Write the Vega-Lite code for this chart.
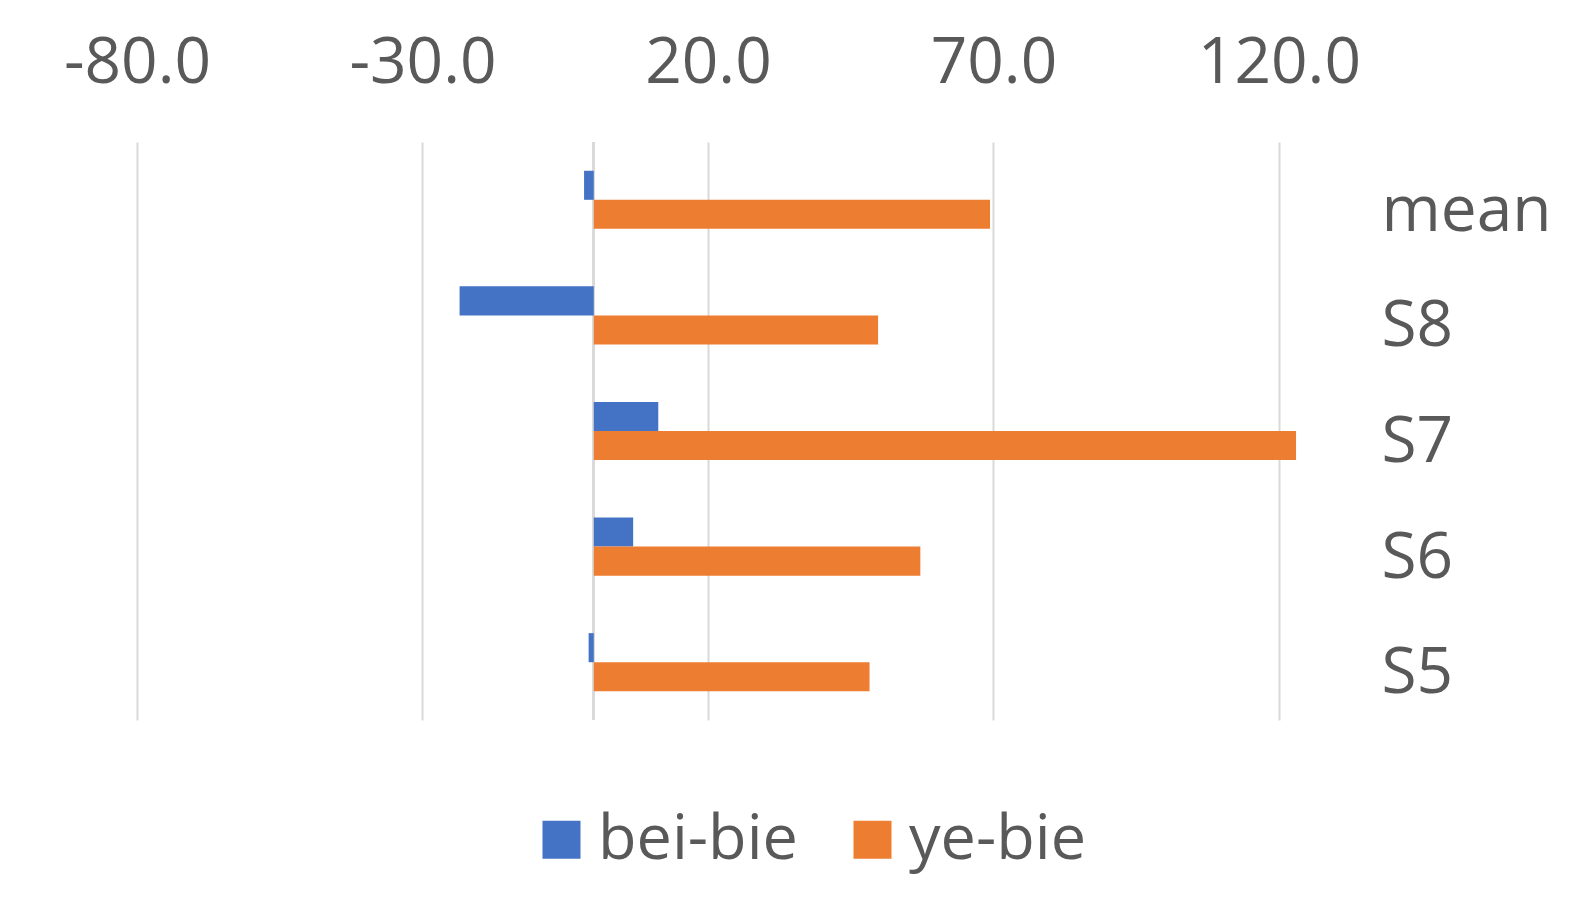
{
  "$schema": "https://vega.github.io/schema/vega-lite/v6.json",
  "autosize": {"type": "none"},
  "width": 1199,
  "height": 578,
  "padding": {"left": 137, "top": 142, "right": 254, "bottom": 185},
  "background": "white",
  "config": {
    "view": {"stroke": null},
    "font": "Open Sans",
    "axis": {"labelFont": "Open Sans", "labelColor": "#595959", "labelFontSize": 64}
  },
  "data": {
    "values": [
      {"cat": "mean", "series": "bei-bie", "value": -1.7},
      {"cat": "mean", "series": "ye-bie", "value": 69.4},
      {"cat": "S8", "series": "bei-bie", "value": -23.5},
      {"cat": "S8", "series": "ye-bie", "value": 49.8},
      {"cat": "S7", "series": "bei-bie", "value": 11.3},
      {"cat": "S7", "series": "ye-bie", "value": 123.0},
      {"cat": "S6", "series": "bei-bie", "value": 6.9},
      {"cat": "S6", "series": "ye-bie", "value": 57.2},
      {"cat": "S5", "series": "bei-bie", "value": -0.9},
      {"cat": "S5", "series": "ye-bie", "value": 48.3}
    ]
  },
  "layer": [
    {
      "mark": {"type": "rule", "color": "#d9d9d9", "strokeWidth": 2},
      "encoding": {
        "x": {"datum": 0, "type": "quantitative"}
      }
    },
    {
      "mark": {"type": "bar"},
      "encoding": {
        "y": {
          "field": "cat",
          "type": "nominal",
          "sort": ["mean", "S8", "S7", "S6", "S5"],
          "scale": {"paddingInner": 0, "paddingOuter": 0},
          "axis": {
            "orient": "right",
            "title": null,
            "domain": false,
            "ticks": false,
            "tickSize": 0,
            "labelAlign": "left",
            "labelBaseline": "middle",
            "labelPadding": 45,
            "labelOffset": 12
          }
        },
        "yOffset": {
          "field": "series",
          "type": "nominal",
          "sort": ["bei-bie", "ye-bie"],
          "scale": {"paddingInner": 0, "paddingOuter": 0.99}
        },
        "x": {
          "field": "value",
          "type": "quantitative",
          "scale": {"domain": [-80, 130], "nice": false, "zero": false},
          "axis": {
            "orient": "top",
            "title": null,
            "values": [-80, -30, 20, 70, 120],
            "labelExpr": "datum.value < 0 ? '-' + format(-datum.value, '.1f') : format(datum.value, '.1f')",
            "labelFlush": false,
            "labelOverlap": false,
            "domain": false,
            "ticks": false,
            "tickSize": 0,
            "labelBaseline": "alphabetic",
            "labelPadding": 60,
            "grid": true,
            "gridColor": "#d9d9d9",
            "gridWidth": 2
          }
        },
        "color": {
          "field": "series",
          "type": "nominal",
          "sort": ["bei-bie", "ye-bie"],
          "scale": {"domain": ["bei-bie", "ye-bie"], "range": ["#4472C4", "#ED7D31"]},
          "legend": {
            "title": null,
            "orient": "none",
            "direction": "horizontal",
            "legendX": 393,
            "legendY": 666,
            "symbolType": "square",
            "symbolSize": 1444,
            "symbolStrokeWidth": 0,
            "symbolOpacity": 1,
            "labelFont": "Open Sans",
            "labelFontSize": 63,
            "labelColor": "#595959",
            "labelLimit": 0,
            "labelOffset": 5,
            "columnPadding": 43
          }
        }
      }
    }
  ]
}
